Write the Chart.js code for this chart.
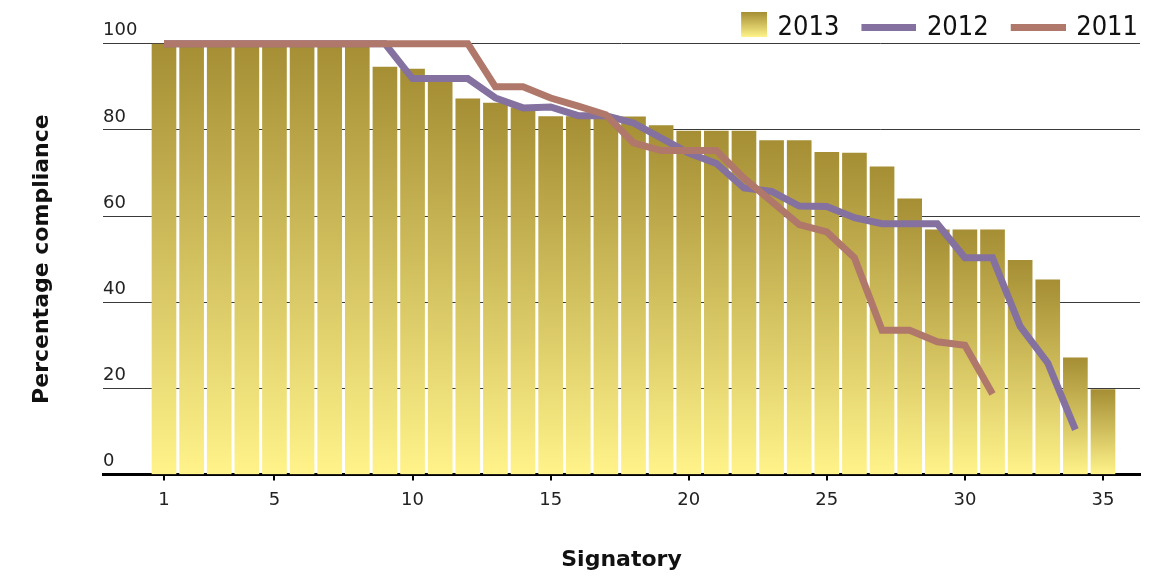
<!DOCTYPE html>
<html>
<head>
<meta charset="utf-8">
<script src="https://cdn.jsdelivr.net/npm/chart.js@4/dist/chart.umd.min.js"></script>
<style>
  html, body { margin: 0; padding: 0; background: #ffffff; }
  #wrap { width: 1167px; height: 580px; position: relative; }
</style>
</head>
<body>
<div id="wrap"><canvas id="c" width="1167" height="580"></canvas></div>
<script>
// ---- data ----
const signatories = [1,2,3,4,5,6,7,8,9,10,11,12,13,14,15,16,17,18,19,20,21,22,23,24,25,26,27,28,29,30,31,32,33,34,35];
const share2013 = [100,100,100,100,100,100,100,100,94.6,94.1,91.6,87.2,86.2,85.1,83.1,83.1,83.3,83.0,81.0,79.7,79.7,79.7,77.5,77.5,74.8,74.6,71.4,64.0,56.8,56.8,56.8,49.7,45.2,27.1,19.7];
const share2012 = [100,100,100,100,100,100,100,100,100,91.9,91.9,91.9,87.4,85.1,85.3,83.3,83.3,81.6,78.1,74.6,72.2,66.5,65.7,62.3,62.2,59.6,58.2,58.2,58.2,50.3,50.3,34.4,25.9,10.4];
const share2011 = [100,100,100,100,100,100,100,100,100,100,100,100,90.0,90.0,87.4,85.5,83.5,77.0,75.2,75.2,75.2,68.8,63.4,58.0,56.3,50.3,33.5,33.5,30.8,30.0,18.7];
const seriesNames = ['2013', '2012', '2011'];
const xTickValues = [1,5,10,15,20,25,30,35];
const yTickValues = [0,20,40,60,80,100];
const xTitle = 'Signatory';
const yTitle = 'Percentage compliance';

// ---- styles ----
const BAR_TOP = '#a58e34';
const BAR_BOTTOM = '#fff38a';
const COL_2012 = '#84719f';
const COL_2011 = '#b0786a';

function toPoints(values) {
  return values.map((v, i) => ({ x: signatories[i], y: v }));
}

function barFill(ctx) {
  const chart = ctx.chart;
  const ys = chart.scales ? chart.scales.y : null;
  if (!chart.chartArea || !ys || !ctx.parsed || ctx.parsed.y == null) return '#c9b14d';
  const top = ys.getPixelForValue(ctx.parsed.y);
  const bottom = ys.getPixelForValue(0);
  if (!isFinite(top) || !isFinite(bottom) || bottom - top < 1) return '#c9b14d';
  const g = chart.ctx.createLinearGradient(0, top, 0, bottom);
  g.addColorStop(0, BAR_TOP);
  g.addColorStop(1, BAR_BOTTOM);
  return g;
}

// legend marker images
const MARK_W = 78;
function makeBoxMarker() {
  const c = document.createElement('canvas');
  c.width = MARK_W; c.height = 31;
  const x = c.getContext('2d');
  const g = x.createLinearGradient(0, 0, 0, 25);
  g.addColorStop(0, BAR_TOP); g.addColorStop(1, BAR_BOTTOM);
  x.fillStyle = g;
  x.fillRect(MARK_W - 26, 0, 26, 25);
  return c;
}
function makeLineMarker(color) {
  const c = document.createElement('canvas');
  c.width = MARK_W; c.height = 7;
  const x = c.getContext('2d');
  x.fillStyle = color;
  x.fillRect(MARK_W - 55, 0, 55, 7);
  return c;
}
const markers = [makeBoxMarker(), makeLineMarker(COL_2012), makeLineMarker(COL_2011)];

Chart.defaults.font.family = 'DejaVu Sans';

new Chart(document.getElementById('c'), {
  type: 'bar',
  data: {
    datasets: [
      {
        type: 'bar',
        label: seriesNames[0],
        data: toPoints(share2013),
        backgroundColor: barFill,
        borderWidth: 0,
        barThickness: 24,
        order: 2
      },
      {
        type: 'line',
        label: seriesNames[1],
        data: toPoints(share2012),
        borderColor: COL_2012,
        backgroundColor: COL_2012,
        borderWidth: 7,
        pointRadius: 0,
        tension: 0,
        fill: false,
        clip: false,
        order: 1
      },
      {
        type: 'line',
        label: seriesNames[2],
        data: toPoints(share2011),
        borderColor: COL_2011,
        backgroundColor: COL_2011,
        borderWidth: 7,
        pointRadius: 0,
        tension: 0,
        fill: false,
        clip: false,
        order: 0
      }
    ]
  },
  options: {
    responsive: false,
    animation: false,
    devicePixelRatio: 1,
    layout: { padding: { top: 12, right: 27, bottom: 0, left: 0 } },
    plugins: {
      tooltip: { enabled: false },
      legend: {
        position: 'top',
        align: 'end',
        maxHeight: 31.7,
        labels: {
          usePointStyle: true,
          pointStyleWidth: 72,
          padding: 2,
          color: '#111111',
          font: { family: "'DejaVu Sans Condensed', 'DejaVu Sans'", size: 27 },
          generateLabels: (chart) => seriesNames.map((name, i) => ({
            text: name,
            pointStyle: markers[i],
            fillStyle: 'rgba(0,0,0,0)',
            strokeStyle: 'rgba(0,0,0,0)',
            lineWidth: 0,
            hidden: false,
            datasetIndex: i,
            fontColor: '#111111'
          }))
        }
      }
    },
    scales: {
      x: {
        type: 'linear',
        min: -1.2086,
        max: 36.34,
        offset: false,
        afterBuildTicks: (scale) => { scale.ticks = xTickValues.map(v => ({ value: v })); },
        ticks: {
          autoSkip: false,
          maxRotation: 0,
          padding: 9,
          color: '#222222',
          font: { family: 'DejaVu Sans', size: 18 },
          callback: (v) => String(v)
        },
        grid: {
          display: true,
          drawOnChartArea: false,
          drawTicks: true,
          tickLength: 6,
          color: '#000000',
          lineWidth: 2,
          offset: false
        },
        border: { display: true, color: '#000000', width: 3 },
        title: {
          display: true,
          text: xTitle,
          color: '#111111',
          font: { family: 'DejaVu Sans', weight: 'bold', size: 22 },
          padding: { top: 26.5, bottom: 7 }
        }
      },
      y: {
        type: 'linear',
        min: 0,
        max: 100,
        afterBuildTicks: (scale) => { scale.ticks = yTickValues.map(v => ({ value: v })); },
        ticks: {
          mirror: true,
          padding: 0,
          labelOffset: -13,
          color: '#222222',
          font: { family: 'DejaVu Sans', size: 18 },
          callback: (v) => String(v)
        },
        grid: {
          display: true,
          drawTicks: false,
          color: '#3a3a3a',
          lineWidth: 1
        },
        border: { display: false },
        title: {
          display: true,
          text: yTitle,
          color: '#111111',
          font: { family: 'DejaVu Sans', weight: 'bold', size: 22 },
          padding: { top: 29, bottom: 47.6 }
        }
      }
    }
  }
});
</script>
</body>
</html>
